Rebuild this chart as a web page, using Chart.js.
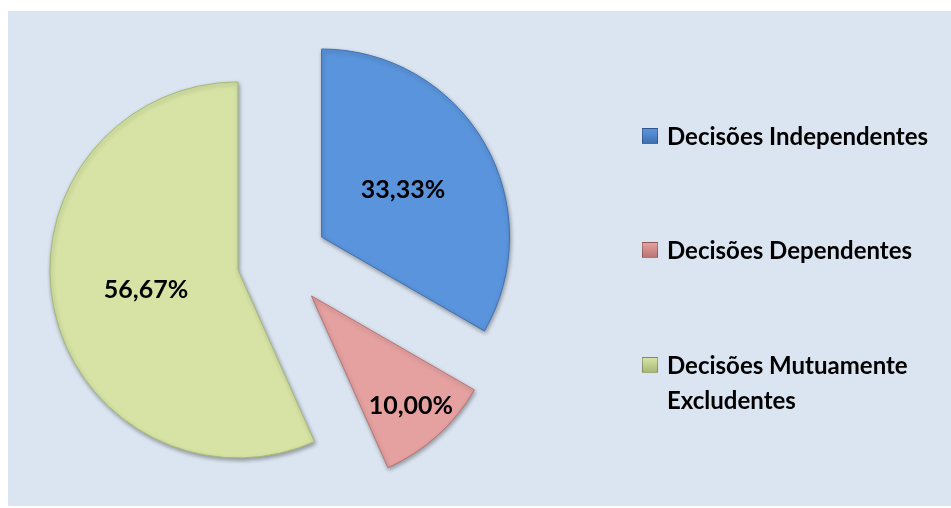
<!DOCTYPE html>
<html>
<head>
<meta charset="utf-8">
<script src="https://cdn.jsdelivr.net/npm/chart.js@4.4.1/dist/chart.umd.min.js"></script>
<style>
  html, body { margin: 0; padding: 0; background: #fff; }
  #wrap { position: relative; width: 951px; height: 508px; overflow: hidden; }
  #panel { position: absolute; left: 8px; top: 11px; width: 943px; height: 495px; background: #dbe5f1; }
  #chart-box { position: absolute; left: 0; top: 0; width: 951px; height: 508px; }
  #legend { position: absolute; left: 642px; top: 0; width: 309px; height: 508px; font: bold 24px Lato, sans-serif; color: #000; }
  .item { position: absolute; left: 0; width: 309px; display: flex; align-items: flex-start; line-height: 35px; }
  .swatch { flex: none; width: 16px; height: 16px; margin-top: 10px; margin-right: 9px; box-sizing: border-box; border: 1px solid rgba(0,0,0,0.25); }
  .text { width: 270px; }
</style>
</head>
<body>
<div id="wrap">
  <div id="panel"></div>
  <div id="chart-box"><canvas id="pie"></canvas></div>
  <div id="legend"></div>
</div>
<script>
const categories = ['Decisões Independentes', 'Decisões Dependentes', 'Decisões Mutuamente Excludentes']
const shares = [33.33, 10.00, 56.67]
const colors = ['#5a94dc', '#e5a1a0', '#d6e3a4']
const edgeColors = ['#3f70b3', '#b87574', '#a8b878']

const fmt = (v) => v.toFixed(2).replace('.', ',') + '%'

// Excel style explosion: move each slice out along its middle angle
const explodePlugin = {
  id: 'explode',
  beforeDatasetsDraw(chart, args, opts) {
    const meta = chart.getDatasetMeta(0)
    const area = chart.chartArea
    const cx = (area.left + area.right) / 2
    const cy = (area.top + area.bottom) / 2
    meta.data.forEach((arc, i) => {
      const mid = (arc.startAngle + arc.endAngle) / 2
      arc.x = cx + Math.cos(mid) * opts.distance[i]
      arc.y = cy + Math.sin(mid) * opts.distance[i]
    })
    const ctx = chart.ctx
    ctx.save()
    ctx.shadowColor = 'rgba(0, 0, 0, 0.35)'
    ctx.shadowBlur = 4
    ctx.shadowOffsetX = 1
    ctx.shadowOffsetY = 2
  },
  afterDatasetsDraw(chart, args, opts) {
    const ctx = chart.ctx
    ctx.restore()
    const meta = chart.getDatasetMeta(0)
    ctx.save()
    ctx.font = 'bold 25px Lato, sans-serif'
    ctx.fillStyle = '#000'
    ctx.textAlign = 'center'
    ctx.textBaseline = 'middle'
    meta.data.forEach((arc, i) => {
      const mid = (arc.startAngle + arc.endAngle) / 2
      const r = arc.outerRadius * opts.labelRadius[i]
      ctx.fillText(fmt(chart.data.datasets[0].data[i]), arc.x + Math.cos(mid) * r, arc.y + Math.sin(mid) * r)
    })
    ctx.restore()
  }
}

const chart = new Chart(document.querySelector('#pie'), {
  type: 'pie',
  data: {
    labels: categories,
    datasets: [{
      data: shares,
      backgroundColor: colors,
      borderColor: edgeColors,
      borderWidth: 1,
    }]
  },
  options: {
    responsive: true,
    maintainAspectRatio: false,
    animation: false,
    radius: 188,
    layout: { padding: { left: 0, right: 391, top: 14, bottom: 0 } },
    plugins: {
      legend: { display: false },
      tooltip: { enabled: false },
      explode: { distance: [48, 47, 43], labelRadius: [0.5, 0.79, 0.5] },
    }
  },
  plugins: [explodePlugin]
})

// legend rows, built from the same arrays
const legend = document.querySelector('#legend')
const rowTops = [118, 232, 347]
categories.forEach((name, i) => {
  const item = document.createElement('div')
  item.className = 'item'
  item.style.top = rowTops[i] + 'px'
  const sw = document.createElement('span')
  sw.className = 'swatch'
  sw.style.background = 'linear-gradient(to bottom, ' + colors[i] + ', ' + edgeColors[i] + ')'
  const txt = document.createElement('span')
  txt.className = 'text'
  txt.textContent = name
  item.appendChild(sw)
  item.appendChild(txt)
  legend.appendChild(item)
})
</script>
</body>
</html>
